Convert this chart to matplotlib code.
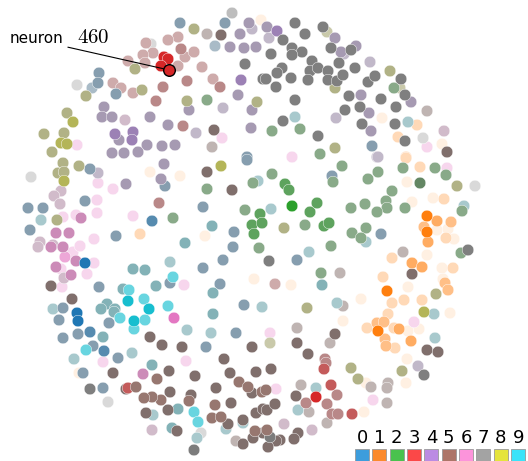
import numpy as np
import matplotlib
matplotlib.use("Agg")
import matplotlib.pyplot as plt
from matplotlib.patches import Rectangle

# neuron map positions, grouped by the digit each neuron prefers.
# tone: s strong, m/o lighter, l/f pale, h/g/p greyed, d dark grey
digit_0 = [(180, 23, 'g'), (225, 23, 'g'), (215, 46, 'p'), (247, 157, 'g'), (116, 94, 'g'), (99, 73, 'g'),
           (98, 83, 'g'), (92, 88, 'p'), (372, 146, 'g'), (90, 169, 'g'), (28, 208, 'g'), (43, 208, 'g'),
           (85, 201, 'g'), (30, 230, 'g'), (85, 263, 's'), (63, 308, 'g'), (77, 313, 's'), (99, 287, 'g'),
           (116, 236, 'g'), (165, 186, 'g'), (152, 221, 'h'), (170, 283, 'g'), (203, 207, 'g'), (234, 232, 'g'),
           (233, 247, 'g'), (223, 260, 'g'), (203, 268, 'g'), (220, 284, 'g'), (244, 305, 'g'), (247, 160, 'g'),
           (332, 176, 'g'), (381, 234, 'g'), (297, 260, 'g'), (78, 321, 's'), (59, 320, 'g'), (63, 338, 'g'),
           (78, 334, 'g'), (90, 332, 'h'), (93, 346, 'g'), (104, 351, 'h'), (109, 323, 'g'), (236, 333, 'g'),
           (118, 358, 'g'), (206, 347, 'g'), (83, 373, 'g'), (103, 388, 'g')]
digit_1 = [(261, 20, 'f'), (382, 118, 'f'), (417, 125, 'l'), (398, 137, 'l'), (442, 144, 'f'), (406, 157, 'l'),
           (140, 234, 'l'), (150, 172, 'f'), (180, 176, 'f'), (205, 236, 'f'), (254, 279, 'f'), (406, 158, 'l'),
           (420, 167, 'l'), (407, 182, 'f'), (412, 202, 'f'), (433, 198, 'f'), (444, 199, 'l'), (427, 216, 's'),
           (437, 221, 'm'), (451, 222, 'o'), (424, 227, 'o'), (437, 230, 'f'), (448, 229, 'f'), (427, 232, 's'),
           (428, 242, 'm'), (446, 238, 'l'), (454, 239, 'f'), (427, 255, 'f'), (392, 258, 'l'), (412, 263, 'm'),
           (422, 267, 'm'), (442, 268, 'f'), (453, 268, 'l'), (443, 279, 'f'), (445, 283, 'o'), (448, 290, 'o'),
           (408, 287, 'f'), (383, 277, 'l'), (387, 291, 's'), (404, 300, 'l'), (422, 300, 'l'), (392, 303, 'l'),
           (361, 299, 'f'), (291, 285, 'f'), (79, 373, 'f'), (450, 313, 'f'), (388, 314, 'l'), (377, 323, 'o'),
           (384, 322, 'o'), (378, 331, 's'), (394, 328, 'l'), (399, 329, 'm'), (408, 331, 'f'), (419, 329, 'f'),
           (367, 328, 'l'), (385, 339, 'o'), (386, 346, 'o'), (395, 348, 'l'), (411, 341, 'm'), (407, 359, 'f'),
           (406, 383, 'f'), (366, 383, 'f'), (343, 321, 'f'), (364, 412, 'f')]
digit_2 = [(207, 100, 'g'), (394, 88, 'g'), (272, 131, 'g'), (300, 129, 'g'), (320, 154, 'g'), (173, 218, 'g'),
           (207, 189, 'g'), (253, 183, 'g'), (245, 210, 'g'), (260, 214, 'h'), (252, 225, 'h'), (262, 223, 'h'),
           (254, 234, 'h'), (259, 248, 'g'), (272, 174, 'g'), (285, 184, 'h'), (289, 190, 'h'), (292, 206, 's'),
           (310, 212, 'h'), (317, 203, 'h'), (333, 182, 'g'), (342, 166, 'g'), (368, 179, 'g'), (378, 172, 'g'),
           (403, 168, 'g'), (435, 168, 'g'), (446, 175, 'g'), (420, 183, 'd'), (392, 191, 'g'), (386, 201, 'g'),
           (387, 208, 'g'), (377, 212, 'g'), (405, 208, 'g'), (462, 211, 'g'), (461, 253, 'g'), (351, 208, 'g'),
           (365, 204, 'g'), (352, 233, 'g'), (366, 228, 'g'), (361, 238, 'g'), (331, 246, 'g'), (324, 226, 'h'),
           (329, 223, 'h'), (305, 225, 'g'), (321, 273, 'g')]
digit_3 = [(183, 126, 'g'), (156, 101, 'g'), (163, 87, 'g'), (187, 81, 'g'), (213, 79, 'p'), (220, 87, 'g'),
           (202, 67, 'p'), (178, 66, 'p'), (185, 57, 'p'), (194, 52, 'p'), (181, 49, 'g'), (178, 37, 'p'),
           (168, 40, 'p'), (146, 43, 'p'), (153, 53, 'p'), (143, 55, 'p'), (145, 63, 'p'), (128, 61, 'p'),
           (113, 83, 'p'), (121, 88, 'p'), (133, 93, 'p'), (164, 57, 's'), (168, 59, 's'), (161, 66, 's'),
           (159, 203, 'g'), (275, 284, 'p'), (128, 388, 'h'), (325, 359, 'g'), (326, 363, 'g'), (324, 369, 'h'),
           (316, 397, 's'), (306, 403, 'g'), (331, 385, 'h'), (337, 395, 'g'), (327, 404, 'g'), (332, 414, 'g'),
           (338, 414, 'g'), (352, 414, 'h')]
digit_4 = [(249, 23, 'g'), (240, 34, 'g'), (252, 29, 'p'), (230, 47, 'g'), (244, 48, 'g'), (256, 47, 'g'),
           (241, 80, 'h'), (238, 95, 'g'), (252, 110, 'g'), (223, 108, 'p'), (189, 110, 'g'), (168, 125, 'g'),
           (196, 133, 'p'), (251, 128, 'g'), (175, 145, 'g'), (162, 146, 'g'), (150, 117, 'g'), (104, 107, 'g'),
           (102, 117, 'g'), (112, 117, 'g'), (115, 134, 'h'), (133, 132, 'h'), (132, 140, 'h'), (119, 140, 'g'),
           (147, 145, 'g'), (138, 152, 'g'), (124, 153, 'g'), (112, 153, 'g'), (267, 27, 'g'), (277, 31, 'h'),
           (269, 38, 'p'), (335, 38, 'g'), (341, 52, 'g'), (344, 54, 'p'), (356, 46, 'g'), (361, 95, 'g'),
           (336, 118, 'p'), (369, 113, 'g'), (371, 131, 'g'), (370, 62, 'p'), (411, 102, 'g'), (377, 157, 'p'),
           (98, 173, 'p'), (126, 184, 'g'), (164, 164, 'g'), (161, 179, 'g'), (378, 157, 'p'), (418, 366, 'p')]
digit_5 = [(207, 34, 'p'), (221, 35, 'd'), (214, 130, 'd'), (212, 147, 'p'), (427, 111, 'p'), (447, 152, 'd'),
           (51, 286, 'd'), (72, 299, 'd'), (207, 172, 'd'), (232, 190, 'd'), (403, 252, 'p'), (412, 274, 'd'),
           (343, 306, 'p'), (340, 273, 'p'), (150, 337, 'd'), (162, 345, 'd'), (182, 347, 'd'), (157, 379, 'h'),
           (169, 371, 'd'), (195, 376, 'd'), (224, 359, 'd'), (230, 373, 'd'), (252, 347, 'd'), (256, 372, 'd'),
           (239, 382, 'h'), (248, 387, 'h'), (252, 393, 'd'), (262, 392, 'h'), (216, 388, 'd'), (231, 403, 'd'),
           (215, 405, 'h'), (212, 418, 'h'), (221, 417, 'h'), (228, 424, 'd'), (243, 420, 'd'), (256, 413, 'd'),
           (263, 409, 'd'), (255, 431, 'h'), (253, 438, 'd'), (263, 433, 'd'), (236, 441, 'p'), (243, 444, 'd'),
           (191, 395, 'd'), (189, 401, 'h'), (170, 392, 'd'), (161, 400, 'h'), (152, 397, 'h'), (144, 398, 'h'),
           (136, 387, 'h'), (126, 389, 'd'), (113, 373, 'd'), (146, 413, 'd'), (168, 410, 'd'), (177, 431, 'd'),
           (427, 350, 'd'), (438, 352, 'd'), (388, 383, 'p'), (387, 388, 'p'), (371, 387, 'p'), (335, 334, 'd'),
           (330, 343, 'p'), (308, 354, 'd'), (297, 343, 'd'), (297, 328, 'p'), (271, 369, 'd'), (266, 390, 'h'),
           (267, 410, 'd'), (275, 404, 'd'), (296, 396, 'd'), (301, 385, 'p'), (309, 412, 'p'), (327, 423, 'p'),
           (298, 433, 'd'), (294, 439, 'd'), (267, 430, 'h'), (280, 440, 'd'), (276, 441, 'd'), (268, 447, 'd'),
           (387, 403, 'p')]
digit_6 = [(222, 138, 'l'), (77, 145, 'l'), (444, 131, 'p'), (427, 147, 'l'), (292, 157, 'l'), (125, 120, 'p'),
           (98, 183, 'l'), (113, 189, 'l'), (61, 191, 'p'), (54, 196, 'p'), (60, 204, 'p'), (63, 217, 'l'),
           (76, 215, 'l'), (81, 218, 'h'), (97, 200, 'l'), (97, 213, 'l'), (56, 233, 'h'), (69, 233, 'h'),
           (40, 242, 'p'), (38, 247, 'p'), (51, 247, 'h'), (53, 245, 'p'), (63, 247, 'h'), (73, 252, 'l'),
           (80, 246, 'l'), (94, 239, 'l'), (65, 257, 'm'), (76, 261, 'h'), (94, 263, 'l'), (56, 267, 'h'),
           (61, 269, 'l'), (71, 275, 'h'), (64, 278, 'p'), (87, 274, 'l'), (62, 287, 'l'), (133, 216, 'l'),
           (184, 285, 'l'), (447, 168, 'l'), (174, 318, 's'), (103, 362, 'l'), (186, 361, 'l'), (143, 374, 'h'),
           (152, 430, 'p'), (414, 322, 'l'), (270, 333, 'l'), (276, 389, 'l'), (312, 430, 'p'), (284, 424, 'p'),
           (373, 400, 'l')]
digit_7 = [(232, 13, 'p'), (245, 64, 's'), (263, 79, 's'), (151, 44, 'l'), (77, 85, 'l'), (295, 23, 's'),
           (305, 34, 's'), (283, 40, 's'), (271, 54, 's'), (292, 48, 's'), (302, 52, 's'), (292, 55, 's'),
           (282, 68, 's'), (277, 73, 's'), (266, 79, 's'), (291, 78, 's'), (276, 87, 's'), (312, 61, 's'),
           (310, 71, 's'), (318, 68, 's'), (308, 80, 's'), (328, 71, 's'), (328, 80, 's'), (337, 81, 's'),
           (343, 75, 's'), (339, 63, 's'), (331, 48, 's'), (323, 27, 's'), (351, 50, 's'), (355, 68, 's'),
           (349, 96, 's'), (345, 110, 's'), (360, 107, 's'), (362, 124, 's'), (368, 82, 's'), (375, 76, 's'),
           (381, 99, 's'), (401, 79, 's'), (405, 95, 's'), (396, 107, 's'), (395, 124, 's'), (405, 141, 's'),
           (423, 138, 'l'), (283, 121, 's'), (295, 100, 's'), (318, 136, 's'), (31, 177, 'l'), (475, 186, 'l'),
           (468, 250, 's'), (269, 261, 's'), (90, 389, 's'), (108, 402, 'l'), (201, 433, 'l'), (194, 450, 'd'),
           (424, 375, 's'), (270, 437, 'd')]
digit_8 = [(194, 29, 'g'), (257, 102, 'g'), (187, 101, 'g'), (135, 69, 'g'), (142, 90, 'g'), (86, 96, 'g'),
           (67, 113, 'g'), (73, 122, 'h'), (44, 134, 'g'), (64, 133, 'g'), (61, 143, 'h'), (67, 144, 'h'),
           (52, 152, 'g'), (327, 32, 'p'), (335, 88, 'g'), (390, 71, 'g'), (400, 88, 'p'), (335, 148, 'g'),
           (63, 163, 'g'), (58, 173, 'g'), (64, 172, 'g'), (64, 181, 'h'), (79, 166, 'g'), (57, 220, 'g'),
           (221, 166, 'h'), (457, 186, 'g'), (436, 294, 'g'), (307, 308, 'g'), (284, 228, 'g'), (424, 312, 'h'),
           (402, 371, 'g'), (358, 379, 'g'), (351, 368, 'g'), (270, 343, 'p')]
digit_9 = [(295, 117, 'p'), (408, 122, 'p'), (41, 220, 'p'), (53, 309, 'p'), (185, 243, 'g'), (170, 262, 'p'),
           (173, 277, 'm'), (156, 286, 'g'), (145, 270, 'g'), (133, 269, 'g'), (123, 289, 'g'), (129, 290, 'm'),
           (128, 301, 's'), (144, 299, 'm'), (149, 309, 's'), (168, 306, 'm'), (107, 304, 'g'), (101, 309, 'g'),
           (115, 309, 'g'), (212, 226, 'g'), (213, 293, 'g'), (262, 307, 'p'), (258, 181, 'p'), (464, 206, 'p'),
           (337, 303, 'p'), (366, 242, 'p'), (271, 209, 'p'), (309, 252, 'p'), (322, 285, 'g'), (86, 350, 'm'),
           (74, 359, 'p'), (103, 337, 'g'), (114, 312, 'g'), (120, 318, 'm'), (134, 321, 's'), (134, 329, 'm'),
           (145, 320, 'm'), (187, 330, 'p'), (211, 333, 'p'), (213, 314, 'g'), (132, 353, 'p'), (152, 365, 'g'),
           (226, 429, 'p'), (243, 423, 'p'), (153, 415, 'p'), (178, 409, 'g'), (194, 412, 'm'), (198, 422, 'm'),
           (172, 428, 'g'), (197, 438, 'p'), (434, 314, 'p'), (435, 338, 'p'), (316, 388, 'p'), (298, 410, 'p')]

highlight = (169, 70)
highlight_word = 'neuron'
highlight_id = r'$460$'
legend_digits = ['0', '1', '2', '3', '4', '5', '6', '7', '8', '9']
legend_colors = ['#3d9ddc', '#fb8a2c', '#49c24e', '#fb4848', '#bb8be3',
                 '#ad7568', '#fc94db', '#a3a3a3', '#e5e43c', '#3ae3f9']

tab10 = plt.get_cmap('tab10').colors
# (mix colour, amount of mix) for each tone
tones = {'s': ((1, 1, 1), 0.0), 'm': ((1, 1, 1), 0.35), 'o': ((1, 1, 1), 0.5),
         'l': ((1, 1, 1), 0.7), 'f': ((1, 1, 1), 0.88),
         'h': ((0.66, 0.66, 0.66), 0.4), 'g': ((0.68, 0.68, 0.68), 0.72),
         'p': ((0.8, 0.8, 0.8), 0.8), 'd': ((0.48, 0.48, 0.48), 0.7)}
draw_order = 'flpgdomhs'

plt.rcParams['mathtext.fontset'] = 'cm'

fig = plt.figure(figsize=(5.28, 4.61), dpi=100)
ax = fig.add_axes([0, 0, 1, 1])

xs, ys, cols, rank = [], [], [], []
groups = [digit_0, digit_1, digit_2, digit_3, digit_4, digit_5, digit_6, digit_7, digit_8, digit_9]
for d, pts in enumerate(groups):
    base = np.array(tab10[d])
    for x, y, t in pts:
        mix, amt = tones[t]
        xs.append(x)
        ys.append(y)
        cols.append((1 - amt) * base + amt * np.array(mix))
        rank.append(draw_order.index(t))

order = np.argsort(rank, kind='stable')
xs = np.array(xs)[order]
ys = np.array(ys)[order]
cols = np.array(cols)[order]
ax.scatter(xs, ys, s=70, c=cols, edgecolors='white', linewidths=0.3, zorder=2)

# the highlighted neuron
ax.scatter([highlight[0]], [highlight[1]], s=70, c=[tab10[3]], edgecolors='black',
           linewidths=1.0, zorder=3)
ax.annotate(highlight_word, xy=highlight, xytext=(10, 43), fontsize=11,
            va='baseline', ha='left', zorder=4,
            arrowprops=dict(arrowstyle='-', color='black', lw=0.8,
                            relpos=(0.98, 0.0), shrinkA=1, shrinkB=4))
ax.text(77, 43, highlight_id, fontsize=15, va='baseline', ha='left', zorder=4)

# colour key in the lower right
for i, (lab, col) in enumerate(zip(legend_digits, legend_colors)):
    x0 = 355 + 17.35 * i
    ax.add_patch(Rectangle((x0, 449), 14, 14, facecolor=col, edgecolor='#999999',
                           lw=0.6, zorder=5))
    ax.text(x0 + 7, 437.5, lab, ha='center', va='center', fontsize=13, zorder=5)

ax.set_xlim(0, 528)
ax.set_ylim(461, 0)
ax.axis('off')

fig.savefig('out.png', dpi=100)
